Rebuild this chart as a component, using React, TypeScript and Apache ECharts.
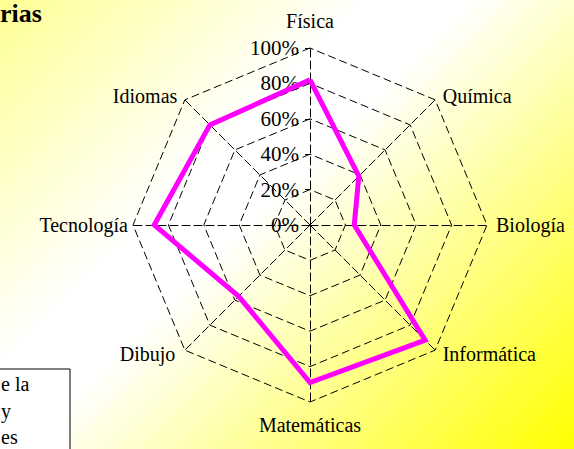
import React, { useEffect, useRef } from "react";
import * as echarts from "echarts";

// Data (clockwise from top, as in the reference)
const categories = ["Física", "Química", "Biología", "Informática", "Matemáticas", "Dibujo", "Tecnología", "Idiomas"];
const scores = [82, 39, 25, 92, 89, 57, 88, 80];
const tickValues = [0, 20, 40, 60, 80, 100];
const titleText = "rias";
const boxLines = ["e la", "y", "es"];

const SERIF = "'Liberation Serif', 'Times New Roman', serif";

// per-label padding [top, right, bottom, left]
const namePad: Record<string, number[]> = {
  "Física": [0, 0, 12, 0],
  "Química": [0, 0, 0, 4],
  "Biología": [0, 0, 0, 4],
  "Informática": [0, 0, 0, 4],
  "Matemáticas": [8, 0, 0, 0],
  "Dibujo": [0, 6, 0, 0],
  "Tecnología": [0, 0, 0, 0],
  "Idiomas": [0, 4, 0, 0],
};

export default function App() {
  const ref = useRef<HTMLDivElement>(null);
  useEffect(() => {
    if (!ref.current) return;
    const chart = echarts.init(ref.current, undefined, { renderer: "svg" });
    // ECharts radar places indicators counter-clockwise; reorder to get clockwise layout
    const order = [0, ...categories.map((_, i) => i).slice(1).reverse()];
    const keys = categories.map((_, i) => "n" + i);
    const rich: Record<string, any> = {};
    categories.forEach((c, i) => {
      rich[keys[i]] = {
        fontFamily: SERIF,
        fontSize: 20,
        color: "#000",
        padding: namePad[c],
      };
    });
    const dash = [8, 4];
    chart.setOption({
      animation: false,
      backgroundColor: "transparent",
      radar: {
        center: [310, 225],
        radius: 177,
        startAngle: 90,
        splitNumber: 5,
        shape: "polygon",
        nameGap: 5,
        indicator: order.map((i) => ({ name: categories[i], min: 0, max: 100 })),
        axisName: {
          color: "#000",
          fontFamily: SERIF,
          fontSize: 20,
          formatter: (name: string) => {
            const i = categories.indexOf(name);
            return "{" + keys[i] + "|" + name + "}";
          },
          rich,
        },
        axisLine: { lineStyle: { color: "#000", width: 1, type: dash } },
        splitLine: { lineStyle: { color: "#000", width: 1, type: dash } },
        splitArea: { show: false },
      },
      polar: { center: [310, 225], radius: 177 },
      angleAxis: { show: false, startAngle: 90, min: 0, max: 360 },
      radiusAxis: {
        type: "value",
        min: tickValues[0],
        max: tickValues[tickValues.length - 1],
        interval: tickValues[1] - tickValues[0],
        axisLine: { show: false },
        splitLine: { show: false },
        axisTick: { show: true, length: 5, lineStyle: { color: "#000", width: 1 } },
        axisLabel: {
          show: true,
          formatter: "{value}%",
          color: "#000",
          fontFamily: SERIF,
          fontSize: 21,
          margin: 11,
        },
      },
      series: [
        {
          type: "radar",
          symbol: "none",
          lineStyle: { color: "#ff00ff", width: 5, join: "miter", miterLimit: 10 },
          data: [{ value: order.map((i) => scores[i]), name: "Notas" }],
        },
      ],
      graphic: [
        {
          type: "text",
          left: 0,
          top: 0,
          style: { text: titleText, fontFamily: SERIF, fontSize: 26, fontWeight: "bold", fill: "#000" },
        },
        {
          type: "rect",
          shape: { x: -5, y: 369, width: 75, height: 100 },
          style: { fill: "#fff", stroke: "#000", lineWidth: 1 },
        },
        ...boxLines.map((t, i) => ({
          type: "text",
          x: 1,
          y: 384 + i * 26.5,
          style: { text: t, fontFamily: SERIF, fontSize: 20, fill: "#000", verticalAlign: "middle" },
        })),
      ],
    });
    return () => chart.dispose();
  }, []);
  return (
    <div
      style={{
        position: "fixed",
        left: 0,
        top: 0,
        width: 574,
        height: 449,
        overflow: "hidden",
        background: "linear-gradient(135deg, #ffff94 0%, #ffffff 36%, #ffffff 46%, #ffff00 100%)",
      }}
    >
      <div ref={ref} style={{ width: 574, height: 449 }} />
    </div>
  );
}
